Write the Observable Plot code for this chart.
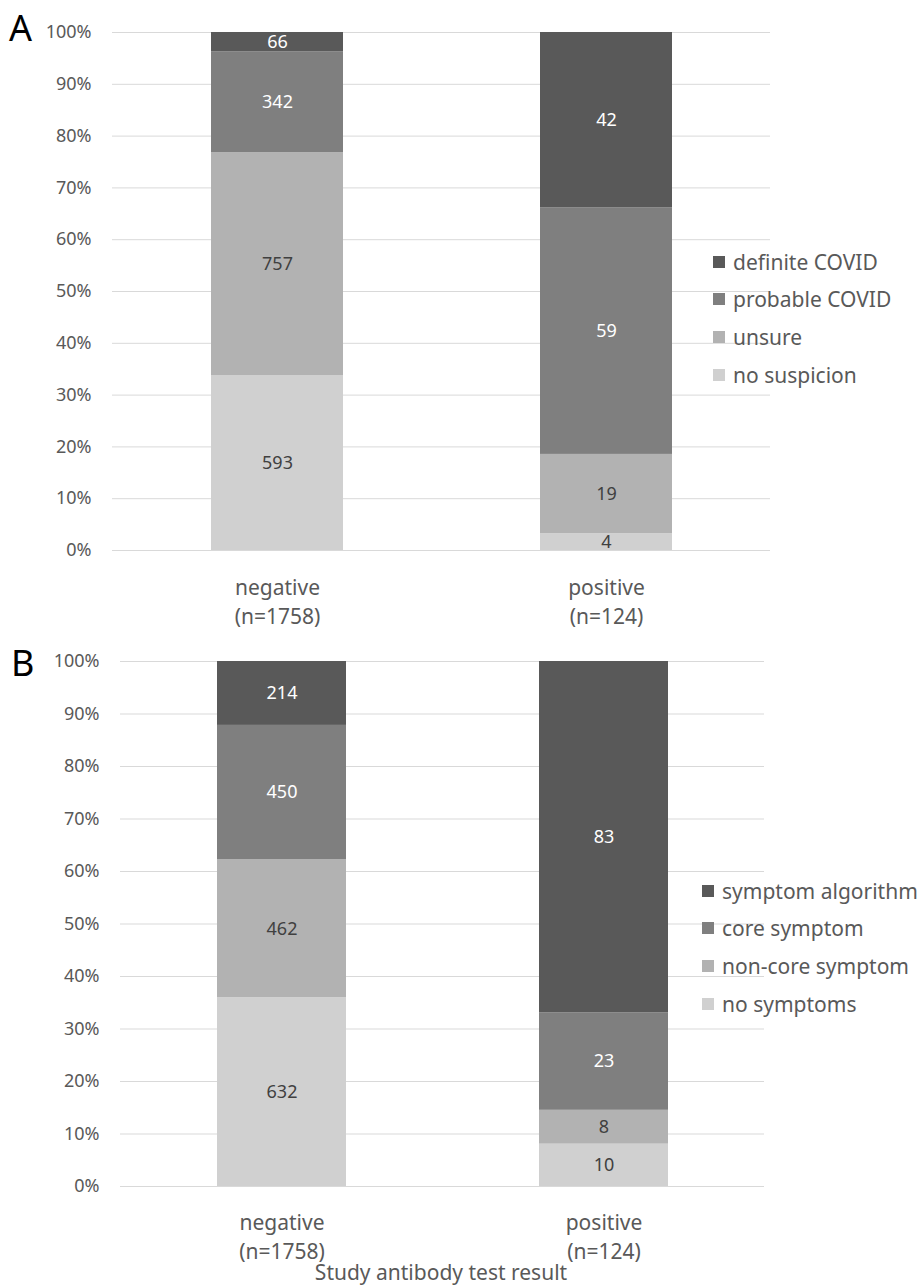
<!DOCTYPE html>
<html><head><meta charset="utf-8">
<script src="https://cdn.jsdelivr.net/npm/d3@7"></script>
<script src="https://cdn.jsdelivr.net/npm/@observablehq/plot@0.6"></script>
<style>
body{margin:0;background:#fff;font-family:"Noto Sans",sans-serif;}
#root{position:relative;width:919px;height:1285px;overflow:hidden;background:#fff}
.panel{position:absolute;left:0}
.letter{position:absolute;font-size:36px;color:#000;line-height:1}
.legend{position:absolute;font-size:21px;color:#595959}
.legend .row{display:flex;align-items:center;height:37.6px;white-space:nowrap}
.legend .sw{width:12px;height:12px;margin-right:8px;flex:none}
.xtitle{position:absolute;font-size:21px;color:#595959;white-space:nowrap;transform:translateX(-50%)}
</style></head><body><div id="root"></div>
<script>
// ---- data ----
const groups = ["negative", "positive"];
const groupLabels = ["negative\n(n=1758)", "positive\n(n=124)"];

const suspicionCategories = ["no suspicion", "unsure", "probable COVID", "definite COVID"];
const suspicionNegative = [593, 757, 342, 66];
const suspicionPositive = [4, 19, 59, 42];

const symptomCategories = ["no symptoms", "non-core symptom", "core symptom", "symptom algorithm"];
const symptomNegative = [632, 462, 450, 214];
const symptomPositive = [10, 8, 23, 83];

const yTicks = [0, 0.1, 0.2, 0.3, 0.4, 0.5, 0.6, 0.7, 0.8, 0.9, 1];
const xTitle = "Study antibody test result";

const grays = ["#d0d0d0", "#b2b2b2", "#7f7f7f", "#595959"];
const valueColors = ["#404040", "#404040", "#ffffff", "#ffffff"];

const root = document.getElementById("root");

function makePanel(o) {
  const rows = [];
  o.cats.forEach((c, i) => rows.push({g: groups[0], cat: c, v: o.neg[i], idx: i}));
  o.cats.forEach((c, i) => rows.push({g: groups[1], cat: c, v: o.pos[i], idx: i}));
  const chart = Plot.plot({
    width: 919,
    height: o.height,
    marginTop: o.mt, marginBottom: o.mb, marginLeft: o.ml, marginRight: o.mr,
    style: {fontFamily: "'Noto Sans', sans-serif", background: "transparent", overflow: "visible"},
    x: {domain: groups, paddingInner: 0.6, paddingOuter: 0.3, axis: null},
    y: {domain: [0, 1], axis: null},
    color: {domain: o.cats, range: grays},
    marks: [
      Plot.ruleY(yTicks, {stroke: "#d9d9d9", strokeWidth: 1}),
      Plot.axisY({ticks: yTicks, tickSize: 0, tickPadding: o.tp, tickFormat: d => Math.round(d * 100) + "%", fontSize: 18, fill: "#595959", label: null}),
      Plot.barY(rows, Plot.stackY({x: "g", y: "v", fill: "cat", offset: "normalize", order: null})),
      Plot.text(rows, Plot.stackY({x: "g", y: "v", z: "cat", offset: "normalize", order: null,
        text: d => String(d.v), fill: d => valueColors[d.idx], fontSize: 18})),
      Plot.text(groups, {x: d => d, y: () => 0, text: (d, i) => groupLabels[i],
        lineAnchor: "top", dy: o.ldy, lineHeight: 1.38, fontSize: 21, fill: "#595959"})
    ]
  });
  const wrap = document.createElement("div");
  wrap.className = "panel";
  wrap.style.top = o.top + "px";
  wrap.appendChild(chart);
  root.appendChild(wrap);

  const letter = document.createElement("div");
  letter.className = "letter";
  letter.textContent = o.letter;
  letter.style.left = o.letterX + "px";
  letter.style.top = o.letterY + "px";
  root.appendChild(letter);

  const lg = document.createElement("div");
  lg.className = "legend";
  lg.style.left = o.legX + "px";
  lg.style.top = o.legY + "px";
  for (let i = o.cats.length - 1; i >= 0; i--) {
    const r = document.createElement("div");
    r.className = "row";
    const sw = document.createElement("span");
    sw.className = "sw";
    sw.style.background = grays[i];
    const t = document.createElement("span");
    t.textContent = o.cats[i];
    r.appendChild(sw); r.appendChild(t);
    lg.appendChild(r);
  }
  root.appendChild(lg);
}

makePanel({cats: suspicionCategories, neg: suspicionNegative, pos: suspicionPositive,
  top: 0, height: 630, mt: 32, mb: 80, ml: 112, mr: 149, tp: 21, ldy: 24,
  letter: "A", letterX: 9, letterY: 10, legX: 713, legY: 243});

makePanel({cats: symptomCategories, neg: symptomNegative, pos: symptomPositive,
  top: 630, height: 655, mt: 31, mb: 99, ml: 120, mr: 155, tp: 21, ldy: 23,
  letter: "B", letterX: 11, letterY: 645, legX: 702, legY: 872});

const xt = document.createElement("div");
xt.className = "xtitle";
xt.textContent = xTitle;
xt.style.left = "441px";
xt.style.top = "1258px";
root.appendChild(xt);
</script>
</body></html>
